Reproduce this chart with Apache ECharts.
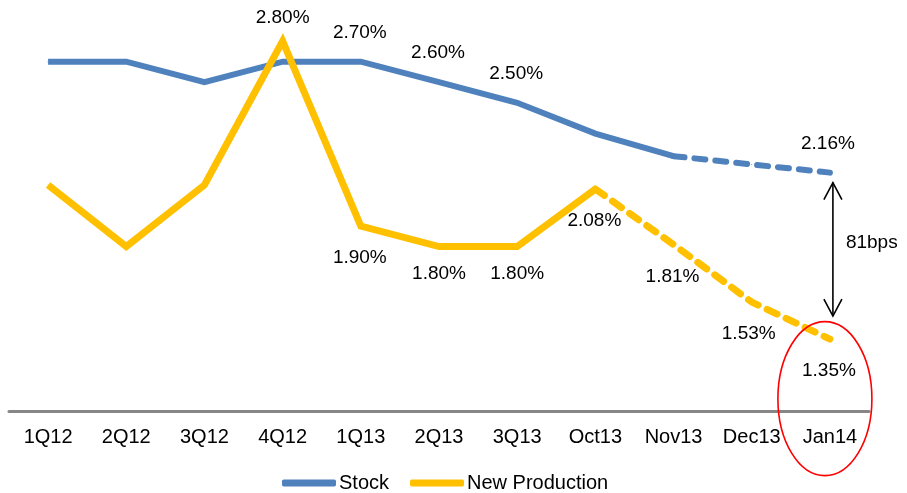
<!DOCTYPE html>
<html><head><meta charset="utf-8">
<script src="https://cdn.jsdelivr.net/npm/echarts@6/dist/echarts.min.js"></script>
<style>html,body{margin:0;padding:0;background:#fff}#c{width:907px;height:493px}</style>
</head><body><div id="c"></div>
<script>
const categories = ['1Q12','2Q12','3Q12','4Q12','1Q13','2Q13','3Q13','Oct13','Nov13','Dec13','Jan14'];
const stockValues = [2.70, 2.70, 2.60, 2.70, 2.70, 2.60, 2.50, 2.35, 2.24, 2.20, 2.16];
const newProdValues = [2.10, 1.80, 2.10, 2.80, 1.90, 1.80, 1.80, 2.08, 1.81, 1.53, 1.35];
const stockSolidEnd = 8;   // index where stock line turns dashed
const newProdSolidEnd = 7; // index where new production turns dashed
const stockLabelIdx = [4, 5, 6, 10];
const newProdLabelIdx = [3, 4, 5, 6, 7, 8, 9, 10];
const gapLabel = '81bps';

const BLUE = '#4F81BD', GOLD = '#FFC000';
const FONT = 'Liberation Sans, Arial, sans-serif';

function part(values, from, to, labelIdx, labelFn) {
  return values.map((v, i) => {
    if (i < from || i > to) return '-';
    const item = { value: v };
    if (labelIdx.includes(i)) item.label = labelFn(i);
    return item;
  });
}

const stockLabel = i => ({ show: true, position: 'top', distance: 19, offset: [i === 10 ? -2 : -1, 0] });
const npLabel = i => {
  if (i === 3) return { show: true, position: 'top', distance: 13 };
  if (i === 5 || i === 6) return { show: true, position: 'bottom', distance: 17 };
  return { show: true, position: 'bottom', distance: 22, offset: [i === 9 ? -3 : -1, 0] };
};

const stockSolid = part(stockValues, 0, stockSolidEnd, stockLabelIdx.filter(i => i <= stockSolidEnd), stockLabel);
const stockDashed = part(stockValues, stockSolidEnd, stockValues.length - 1, stockLabelIdx.filter(i => i > stockSolidEnd), stockLabel);
const npSolid = part(newProdValues, 0, newProdSolidEnd, newProdLabelIdx.filter(i => i <= newProdSolidEnd), npLabel);
const npDashed = part(newProdValues, newProdSolidEnd, newProdValues.length - 1, newProdLabelIdx.filter(i => i > newProdSolidEnd), npLabel);

const labelCommon = {
  fontFamily: FONT, fontSize: 19, color: '#000',
  formatter: p => p.value.toFixed(2) + '%'
};

function lineSeries(name, data, color, width, dashed, z) {
  return {
    name, type: 'line', data, z,
    symbol: 'circle', symbolSize: 1, showSymbol: true,
    itemStyle: { color },
    lineStyle: { color, width, type: dashed ? [11, 10] : 'solid', cap: dashed ? 'round' : 'butt', join: 'miter' },
    label: Object.assign({ show: false }, labelCommon),
    emphasis: { disabled: true },
    animation: false
  };
}

const chart = echarts.init(document.getElementById('c'), null, { renderer: 'canvas' });
chart.setOption({
  animation: false,
  grid: { left: 9, right: 38, top: 0, bottom: 82, containLabel: false },
  legend: {
    data: ['Stock', 'New Production'],
    top: 468, left: 277,
    icon: 'roundRect', itemWidth: 54, itemHeight: 7, itemGap: 21,
    textStyle: { fontFamily: FONT, fontSize: 20, color: '#000', padding: [0, 0, 0, -2] }
  },
  xAxis: {
    type: 'category', data: categories, boundaryGap: true,
    axisLine: { lineStyle: { color: '#868686', width: 3 } },
    axisTick: { show: false },
    axisLabel: { fontFamily: FONT, fontSize: 20, color: '#000', margin: 16, interval: 0 }
  },
  yAxis: { type: 'value', min: 1, max: 3, show: false, splitLine: { show: false } },
  series: [
    lineSeries('Stock', stockSolid, BLUE, 6, false, 3),
    lineSeries('Stock', stockDashed, BLUE, 6, true, 3),
    lineSeries('New Production', npSolid, GOLD, 7, false, 4),
    lineSeries('New Production', npDashed, GOLD, 7, true, 4)
  ]
});

// annotations: double arrow between the Jan14 points, gap label, and ellipse
const last = categories.length - 1;
const pTop = chart.convertToPixel({ seriesIndex: 0 }, [last, stockValues[last]]);
const pBot = chart.convertToPixel({ seriesIndex: 0 }, [last, newProdValues[last]]);
const ax = pTop[0] + 3;
const y1 = pTop[1] + 10, y2 = pBot[1] - 23;
const head = 9, headH = 17;
const ellC = chart.convertToPixel({ seriesIndex: 0 }, [last, 1.06]);
chart.setOption({
  graphic: [
    { type: 'line', shape: { x1: ax, y1: y1, x2: ax, y2: y2 }, style: { stroke: '#000', lineWidth: 1.6 } },
    { type: 'polyline', shape: { points: [[ax - head, y1 + headH], [ax, y1], [ax + head, y1 + headH]] }, style: { stroke: '#000', lineWidth: 1.6, fill: null } },
    { type: 'polyline', shape: { points: [[ax - head, y2 - headH], [ax, y2], [ax + head, y2 - headH]] }, style: { stroke: '#000', lineWidth: 1.6, fill: null } },
    { type: 'text', x: ax + 13, y: (y1 + y2) / 2 - 7, style: { text: gapLabel, font: '19px ' + FONT, fill: '#000', textVerticalAlign: 'middle' } },
    { type: 'ellipse', shape: { cx: ellC[0] - 5, cy: ellC[1], rx: 47, ry: 77 }, style: { stroke: '#FF0000', lineWidth: 1.6, fill: null }, z: 10 }
  ]
});
</script>
</body></html>
